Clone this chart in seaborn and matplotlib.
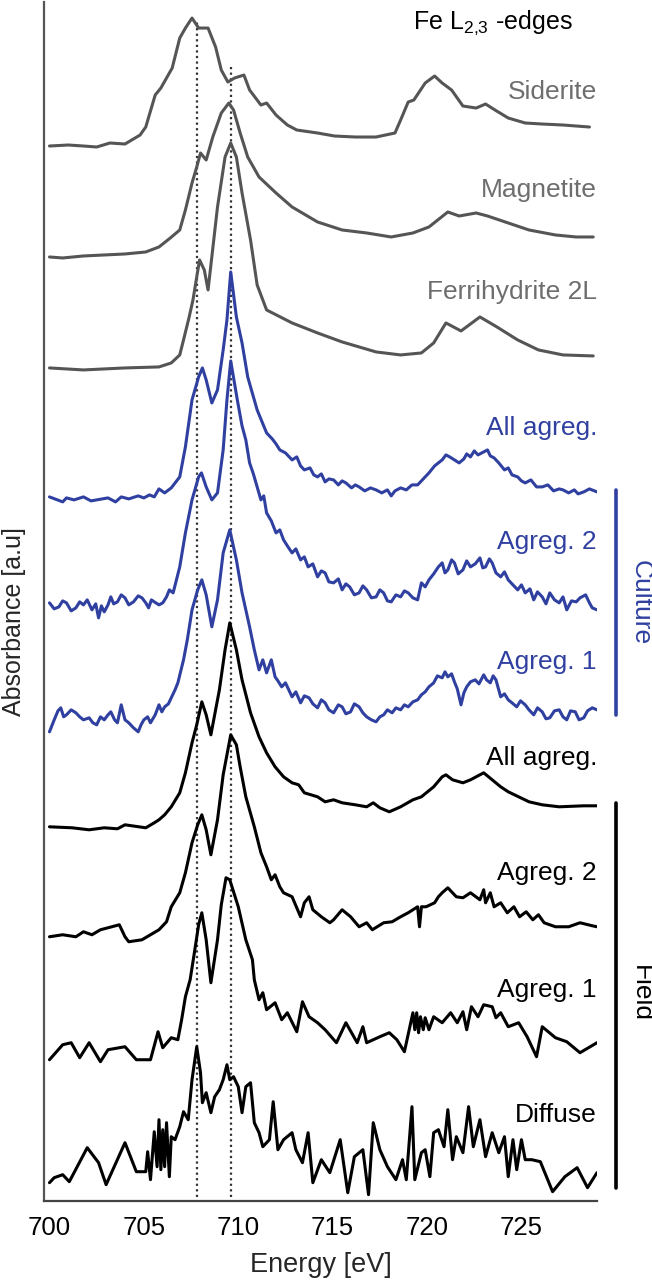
import numpy as np
import matplotlib
matplotlib.use("Agg")
import matplotlib.pyplot as plt
import seaborn as sns

# Fe L2,3-edge spectra, stacked (energy eV, absorbance a.u. incl. stack offset)
siderite = [(700.0, 1055), (701.0, 1056), (701.8, 1055), (702.5, 1054), (703.2, 1058), (704.0, 1057),
            (704.8, 1066), (705.1, 1074), (705.6, 1106), (705.9, 1113), (706.5, 1133), (706.9, 1163),
            (707.2, 1173), (707.55, 1183), (707.9, 1173), (708.4, 1173), (708.8, 1154), (709.1, 1131),
            (709.45, 1119), (709.8, 1123), (710.3, 1126), (710.6, 1111), (711.2, 1096), (711.5, 1098),
            (712.0, 1086), (712.6, 1076), (713.1, 1071), (714.2, 1068), (715.1, 1065), (716.2, 1064),
            (717.3, 1064), (718.3, 1068), (718.6, 1081), (719.0, 1099), (719.3, 1101), (719.9, 1118),
            (720.4, 1125), (720.8, 1118), (721.3, 1111), (721.9, 1095), (722.6, 1093), (723.1, 1097),
            (723.6, 1091), (724.3, 1083), (725.2, 1078), (726.1, 1077), (727.2, 1076), (728.6, 1074)]

magnetite = [(700.0, 944), (700.7, 943), (701.8, 945), (702.9, 946), (704.0, 947), (705.1, 949),
             (705.8, 954), (706.4, 963), (706.9, 971), (707.2, 991), (707.55, 1018), (707.8, 1034),
             (708.0, 1048), (708.3, 1041), (708.65, 1064), (709.1, 1088), (709.5, 1098), (709.75, 1091),
             (710.1, 1068), (710.5, 1044), (711.1, 1024), (712.0, 1008), (712.85, 994), (714.2, 979),
             (715.5, 971), (716.8, 968), (718.1, 964), (719.25, 968), (720.1, 974), (720.7, 983),
             (721.1, 989), (721.7, 985), (722.6, 988), (723.2, 985), (724.3, 978), (725.4, 971),
             (726.8, 966), (727.9, 964), (728.8, 964)]

ferrihydrite = [(700.0, 833), (701.8, 831), (704.0, 833), (705.8, 834), (706.45, 838), (706.9, 846),
                (707.1, 861), (707.4, 884), (707.6, 901), (707.8, 924), (707.95, 941), (708.2, 931),
                (708.4, 911), (708.9, 994), (709.3, 1044), (709.6, 1058), (709.9, 1044), (710.2, 1008),
                (710.65, 961), (711.0, 916), (711.5, 891), (712.85, 878), (714.2, 868), (715.5, 859),
                (717.3, 849), (718.6, 846), (719.7, 848), (720.35, 858), (721.0, 878), (721.8, 870),
                (722.8, 884), (723.7, 874), (724.8, 861), (725.9, 851), (727.2, 846), (728.8, 845)]

culture_all = [(700.0, 704), (700.7, 699), (700.9, 703), (701.3, 701), (701.8, 704), (702.2, 700),
               (702.5, 701), (703.1, 703), (703.5, 699), (703.8, 704), (704.2, 702), (704.7, 705),
               (705.0, 703), (705.3, 706), (705.55, 704), (705.8, 712), (706.1, 708), (706.45, 713),
               (706.9, 724), (707.2, 754), (707.55, 801), (707.9, 824), (708.1, 833), (708.3, 821),
               (708.6, 798), (708.9, 811), (709.2, 851), (709.4, 881), (709.6, 929), (709.9, 884),
               (710.2, 858), (710.5, 824), (711.0, 791), (711.5, 768), (711.8, 762), (712.0, 757),
               (712.2, 751), (712.5, 748), (712.85, 741), (713.1, 744), (713.3, 735), (713.5, 731),
               (713.8, 733), (714.0, 726), (714.2, 724), (714.4, 727), (714.6, 719), (714.8, 722),
               (715.05, 721), (715.3, 716), (715.5, 720), (715.7, 718), (716.0, 713), (716.2, 716),
               (716.4, 714), (716.7, 710), (717.0, 713), (717.3, 711), (717.6, 708), (717.9, 711),
               (718.1, 705), (718.3, 710), (718.6, 713), (718.9, 711), (719.2, 716), (719.5, 716),
               (719.8, 722), (720.1, 728), (720.4, 735), (720.6, 738), (720.8, 741), (721.0, 746),
               (721.2, 744), (721.45, 741), (721.7, 738), (721.95, 742), (722.1, 747), (722.3, 744),
               (722.5, 750), (722.7, 746), (723.0, 749), (723.2, 751), (723.35, 745), (723.55, 743),
               (723.8, 738), (724.1, 731), (724.3, 733), (724.5, 726), (724.8, 724), (725.0, 720),
               (725.2, 718), (725.5, 721), (725.8, 714), (726.1, 714), (726.4, 716), (726.7, 710),
               (727.0, 712), (727.2, 711), (727.5, 708), (727.8, 711), (728.0, 707), (728.3, 709),
               (728.6, 712), (729.0, 709)]

culture_ag2 = [(700.0, 598), (700.25, 592), (700.5, 594), (700.7, 600), (700.9, 598), (701.15, 590),
               (701.4, 593), (701.6, 599), (701.8, 596), (702.0, 601), (702.25, 591), (702.45, 597),
               (702.6, 583), (702.75, 595), (702.9, 589), (703.1, 596), (703.25, 604), (703.4, 597),
               (703.6, 599), (703.8, 606), (704.0, 603), (704.2, 596), (704.45, 599), (704.7, 605),
               (704.9, 603), (705.1, 598), (705.25, 593), (705.4, 601), (705.55, 599), (705.8, 596),
               (706.0, 598), (706.2, 604), (706.35, 611), (706.55, 608), (706.9, 634), (707.2, 668),
               (707.55, 701), (707.9, 724), (708.05, 728), (708.3, 714), (708.6, 701), (708.9, 708),
               (709.2, 751), (709.4, 801), (709.6, 840), (709.95, 801), (710.2, 775), (710.4, 761),
               (710.6, 738), (710.8, 727), (711.0, 714), (711.2, 701), (711.35, 705), (711.5, 688),
               (711.75, 680), (712.0, 668), (712.2, 671), (712.4, 661), (712.6, 655), (712.85, 648),
               (713.05, 652), (713.3, 641), (713.5, 644), (713.7, 634), (713.95, 637), (714.2, 624),
               (714.4, 630), (714.6, 628), (714.8, 619), (715.05, 618), (715.3, 622), (715.5, 611),
               (715.7, 617), (715.9, 614), (716.15, 606), (716.4, 608), (716.6, 615), (716.8, 611),
               (717.05, 603), (717.3, 604), (717.5, 611), (717.7, 608), (717.9, 600), (718.1, 599),
               (718.35, 606), (718.6, 604), (718.8, 610), (719.0, 608), (719.25, 603), (719.5, 601),
               (719.7, 618), (719.9, 614), (720.1, 621), (720.35, 627), (720.6, 634), (720.8, 638),
               (720.95, 628), (721.1, 631), (721.3, 641), (721.45, 638), (721.65, 627), (721.9, 631),
               (722.1, 640), (722.3, 634), (722.55, 637), (722.8, 643), (722.95, 633), (723.1, 634),
               (723.3, 642), (723.45, 638), (723.65, 628), (723.9, 624), (724.1, 629), (724.3, 621),
               (724.55, 616), (724.8, 611), (725.0, 616), (725.2, 608), (725.45, 612), (725.65, 601),
               (725.85, 609), (726.1, 604), (726.3, 597), (726.5, 608), (726.75, 601), (727.0, 598),
               (727.2, 604), (727.4, 591), (727.65, 600), (727.9, 599), (728.1, 603), (728.4, 606),
               (728.6, 598), (728.75, 593), (729.0, 591)]

culture_ag1 = [(700.0, 469), (700.25, 481), (700.45, 490), (700.6, 493), (700.75, 484), (700.9, 486),
               (701.15, 491), (701.4, 488), (701.6, 484), (701.8, 481), (702.1, 483), (702.3, 478),
               (702.5, 476), (702.7, 484), (702.9, 481), (703.1, 486), (703.25, 489), (703.45, 481),
               (703.6, 478), (703.8, 496), (704.0, 481), (704.2, 478), (704.45, 473), (704.7, 469),
               (704.85, 476), (705.0, 481), (705.2, 484), (705.35, 478), (705.6, 486), (705.8, 496),
               (705.95, 489), (706.1, 494), (706.3, 497), (706.45, 503), (706.65, 511), (706.8, 518),
               (707.1, 541), (707.3, 561), (707.55, 591), (707.85, 611), (708.07, 621), (708.3, 606),
               (708.6, 574), (708.9, 601), (709.2, 648), (709.55, 671), (709.9, 641), (710.2, 608),
               (710.6, 574), (710.85, 551), (711.1, 531), (711.3, 541), (711.5, 528), (711.75, 541),
               (711.95, 524), (712.1, 520), (712.3, 514), (712.5, 518), (712.85, 504), (713.05, 509),
               (713.3, 498), (713.5, 505), (713.75, 503), (713.95, 497), (714.2, 493), (714.4, 501),
               (714.6, 498), (714.8, 491), (715.05, 488), (715.3, 496), (715.5, 494), (715.7, 487),
               (715.95, 489), (716.15, 497), (716.4, 494), (716.6, 488), (716.8, 484), (717.05, 481),
               (717.3, 479), (717.5, 484), (717.7, 486), (717.9, 491), (718.15, 488), (718.35, 493),
               (718.6, 491), (718.8, 496), (719.0, 494), (719.25, 499), (719.5, 501), (719.7, 506),
               (719.9, 509), (720.1, 514), (720.35, 518), (720.55, 525), (720.8, 523), (720.95, 529),
               (721.1, 524), (721.3, 527), (721.45, 519), (721.6, 512), (721.8, 496), (721.95, 508),
               (722.1, 514), (722.3, 519), (722.55, 521), (722.75, 517), (723.0, 526), (723.15, 521),
               (723.35, 518), (723.5, 525), (723.65, 521), (723.9, 504), (724.1, 507), (724.3, 501),
               (724.5, 498), (724.75, 494), (724.95, 500), (725.2, 496), (725.4, 491), (725.65, 486),
               (725.85, 493), (726.1, 489), (726.3, 482), (726.5, 483), (726.75, 490), (727.0, 491),
               (727.2, 484), (727.4, 481), (727.6, 490), (727.85, 489), (728.05, 481), (728.3, 483),
               (728.5, 490), (728.75, 493), (729.0, 491)]

field_all = [(700.0, 374), (701.2, 373), (702.1, 371), (702.9, 373), (703.6, 372), (704.0, 376),
             (705.1, 373), (705.55, 378), (705.8, 381), (706.1, 386), (706.45, 394), (706.9, 408),
             (707.2, 428), (707.55, 458), (707.8, 476), (708.07, 499), (708.3, 486), (708.55, 466),
             (709.0, 511), (709.3, 551), (709.55, 578), (709.9, 551), (710.2, 521), (710.65, 488),
             (711.1, 464), (711.5, 448), (711.95, 434), (712.4, 424), (712.85, 418), (713.2, 416),
             (713.5, 408), (714.2, 404), (714.6, 399), (715.05, 401), (715.5, 398), (716.2, 396),
             (716.8, 394), (717.15, 398), (717.5, 393), (718.0, 389), (718.6, 394), (719.25, 401),
             (719.7, 404), (720.35, 414), (720.8, 424), (721.0, 426), (721.35, 421), (721.9, 418),
             (722.3, 421), (723.0, 428), (723.45, 421), (723.9, 414), (724.3, 409), (724.85, 404),
             (725.4, 399), (726.1, 396), (727.0, 394), (728.3, 395), (729.0, 395)]

field_ag2 = [(700.0, 264), (700.7, 266), (701.4, 264), (701.8, 269), (702.25, 266), (702.7, 271),
             (703.1, 273), (703.7, 276), (704.0, 264), (704.2, 259), (704.9, 261), (705.35, 266),
             (705.8, 271), (706.2, 279), (706.45, 294), (706.9, 308), (707.2, 328), (707.55, 358),
             (707.85, 376), (708.07, 386), (708.3, 371), (708.55, 346), (708.9, 381), (709.2, 426),
             (709.6, 466), (709.9, 456), (710.1, 434), (710.4, 404), (710.85, 374), (711.2, 348),
             (711.5, 334), (711.75, 321), (711.95, 326), (712.2, 314), (712.4, 308), (712.85, 304),
             (713.3, 284), (713.5, 298), (713.75, 304), (713.95, 291), (714.4, 284), (714.85, 278),
             (715.05, 281), (715.5, 291), (715.95, 284), (716.4, 274), (716.8, 278), (717.1, 271),
             (717.7, 278), (718.15, 279), (718.6, 284), (719.0, 288), (719.5, 294), (719.6, 274),
             (719.7, 294), (719.95, 294), (720.4, 298), (720.6, 304), (720.8, 308), (721.1, 313),
             (721.55, 304), (721.9, 303), (722.3, 308), (722.8, 301), (723.0, 311), (723.1, 298),
             (723.35, 308), (723.55, 294), (723.9, 298), (724.25, 288), (724.6, 294), (724.9, 284),
             (725.25, 289), (725.6, 281), (725.9, 286), (726.2, 278), (726.8, 274), (727.5, 274),
             (728.1, 278), (728.75, 275), (729.0, 274)]

field_ag1 = [(700.0, 141), (700.7, 156), (701.15, 158), (701.6, 143), (702.1, 158), (702.7, 139),
             (703.1, 151), (704.0, 154), (704.6, 141), (705.35, 141), (705.75, 169), (706.0, 153),
             (706.45, 163), (706.8, 161), (707.0, 181), (707.2, 204), (707.45, 221), (707.7, 251),
             (707.9, 276), (708.07, 288), (708.3, 261), (708.55, 218), (708.9, 261), (709.1, 296),
             (709.35, 323), (709.55, 321), (709.8, 306), (710.0, 294), (710.4, 261), (710.75, 241),
             (710.85, 221), (711.1, 201), (711.3, 208), (711.5, 191), (711.95, 198), (712.3, 181),
             (712.6, 188), (713.1, 169), (713.4, 199), (713.75, 184), (714.2, 178), (714.6, 171),
             (715.2, 158), (715.7, 178), (716.3, 158), (716.6, 174), (716.8, 158), (717.5, 164),
             (718.0, 168), (718.4, 161), (718.8, 149), (719.25, 188), (719.35, 171), (719.45, 188),
             (719.55, 168), (719.65, 184), (719.8, 171), (719.9, 183), (720.1, 171), (720.35, 184),
             (720.8, 178), (721.25, 188), (721.6, 178), (721.9, 189), (722.1, 171), (722.35, 194),
             (722.7, 184), (723.0, 196), (723.45, 194), (723.65, 183), (723.9, 188), (724.3, 174),
             (724.85, 178), (725.3, 164), (725.8, 144), (726.1, 174), (726.8, 163), (727.4, 159),
             (728.1, 148), (729.0, 158)]

diffuse = [(700.0, 18), (700.25, 23), (700.7, 26), (701.05, 19), (702.0, 53), (702.6, 38), (703.0, 16),
           (704.0, 58), (704.6, 29), (705.1, 29), (705.2, 49), (705.35, 21), (705.55, 69), (705.7, 34),
           (705.8, 81), (705.9, 31), (706.0, 71), (706.1, 34), (706.2, 78), (706.35, 24), (706.45, 64),
           (706.65, 61), (706.9, 74), (707.1, 89), (707.35, 81), (707.55, 121), (707.8, 154), (708.0, 128),
           (708.1, 98), (708.3, 108), (708.55, 88), (708.75, 104), (709.0, 111), (709.2, 121), (709.4, 136),
           (709.55, 121), (709.75, 124), (710.0, 114), (710.2, 88), (710.4, 114), (710.65, 118),
           (710.85, 78), (711.1, 68), (711.3, 54), (711.65, 61), (711.85, 99), (712.1, 51), (712.4, 61),
           (712.85, 68), (713.05, 51), (713.4, 38), (713.7, 68), (713.95, 18), (714.4, 41), (714.85, 28),
           (715.4, 61), (715.8, 8), (716.15, 44), (716.6, 51), (716.9, 6), (717.15, 78), (717.5, 51),
           (717.9, 34), (718.35, 21), (718.7, 41), (718.9, 21), (719.2, 94), (719.35, 21), (719.7, 48),
           (719.9, 51), (720.15, 24), (720.35, 68), (720.6, 71), (720.9, 54), (721.1, 91), (721.35, 41),
           (721.55, 64), (721.9, 48), (722.2, 94), (722.45, 54), (722.8, 81), (723.1, 44), (723.45, 68),
           (723.8, 48), (724.1, 64), (724.3, 24), (724.55, 61), (724.75, 31), (725.0, 61), (725.2, 41),
           (725.55, 41), (726.0, 39), (726.65, 9), (727.3, 24), (727.95, 33), (728.5, 13), (729.0, 28)]

names = ["Siderite", "Magnetite", "Ferrihydrite 2L", "All agreg.", "Agreg. 2", "Agreg. 1",
         "All agreg.", "Agreg. 2", "Agreg. 1", "Diffuse"]
groups = ["ref", "ref", "ref", "culture", "culture", "culture", "field", "field", "field", "field"]
spectra = [siderite, magnetite, ferrihydrite, culture_all, culture_ag2, culture_ag1,
           field_all, field_ag2, field_ag1, diffuse]
peak_energies = [707.8, 709.6]
xticks = [700, 705, 710, 715, 720, 725]

# styling
line_col = {"ref": "#555555", "culture": "#2f40a0", "field": "#000000"}
text_col = {"ref": "#6e6e6e", "culture": "#2f40a0", "field": "#000000"}
label_y = [1109, 1011, 909, 773, 659, 539, 443, 328, 211, 86]

sns.set_style("white")
plt.rcParams['font.family'] = ['Liberation Sans', 'DejaVu Sans']
plt.rcParams['mathtext.default'] = 'regular'

fig = plt.figure(figsize=(6.52, 12.81), dpi=100)
ax = fig.add_axes([0.0672, 0.0627, 0.8484, 0.9357])

# dotted guide lines at the two L3 peaks
for e, top in zip(peak_energies, [1179, 1134]):
    ax.plot([e, e], [4, top], color="#333333", lw=1.6, ls=(0, (1, 1.5)), zorder=1)

for name, grp, pts, ly in zip(names, groups, spectra, label_y):
    e, a = np.array(pts).T
    sns.lineplot(x=e, y=a, ax=ax, color=line_col[grp], lw=2.2, sort=False,
                 estimator=None, legend=False, zorder=3)
    ax.text(729.0, ly, name, ha="right", va="center", fontsize=19, color=text_col[grp])

ax.text(727.7, 1178, "Fe L$_{2{,}3}$ -edges", ha="right", va="center", fontsize=18, color="black")

# group brackets on the right
ax.plot([730.0, 730.0], [486, 711], color=line_col["culture"], lw=2.6, clip_on=False)
ax.text(731.3, 598, "Culture", rotation=-90, ha="center", va="center", fontsize=19,
        color=line_col["culture"], clip_on=False)
ax.plot([730.0, 730.0], [13, 398], color="black", lw=2.6, clip_on=False)
ax.text(731.3, 207, "Field", rotation=-90, ha="center", va="center", fontsize=19,
        color="black", clip_on=False)

ax.set_xlim(699.7, 729.0)
ax.set_ylim(0, 1199)
ax.set_xticks(xticks)
ax.set_yticks([])
ax.tick_params(axis="x", direction="in", length=11, width=1.5, labelsize=18.5, pad=11,
               color="#444444", labelcolor="black")
for s in ["top", "right"]:
    ax.spines[s].set_visible(False)
ax.spines["left"].set_color("#555555")
ax.spines["left"].set_linewidth(1.6)
ax.spines["bottom"].set_color("#444444")
ax.spines["bottom"].set_linewidth(1.6)
ax.set_xlabel("Energy [eV]", fontsize=19.5, labelpad=9)
ax.set_ylabel("")
fig.text(14 / 652, 1 - 622 / 1281, "Absorbance [a.u]", rotation=90, ha="center", va="center",
         fontsize=18)

fig.savefig("out.png", dpi=100)
